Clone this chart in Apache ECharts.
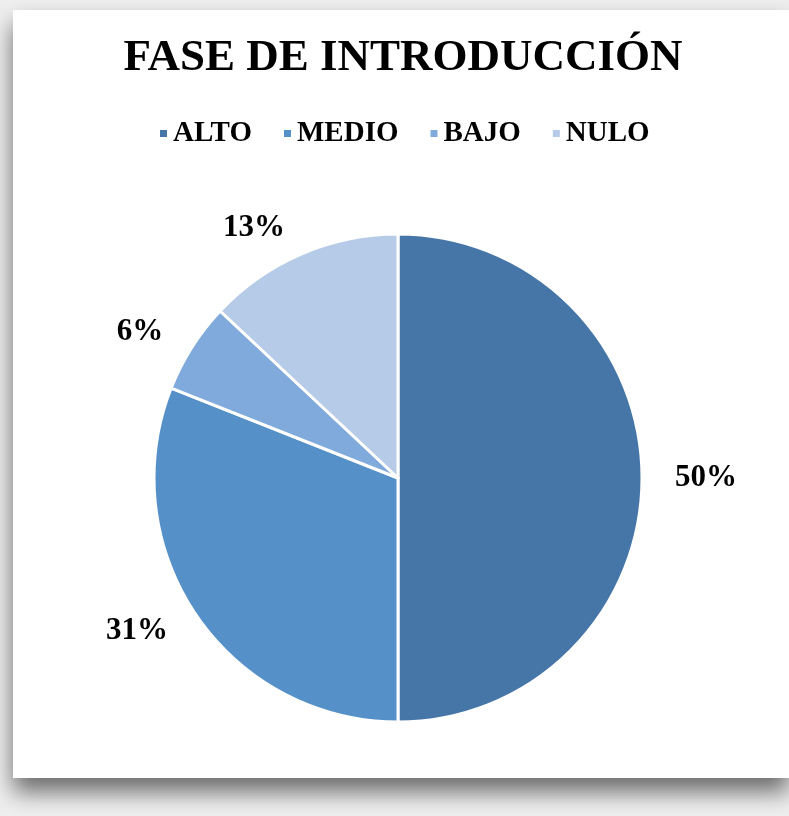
<!DOCTYPE html>
<html>
<head>
<meta charset="utf-8">
<script src="https://cdn.jsdelivr.net/npm/echarts@6/dist/echarts.min.js"></script>
<style>
  html, body { margin: 0; padding: 0; background: #efefef; }
  #chart { width: 789px; height: 816px; }
</style>
</head>
<body>
<div id="chart"></div>
<script>
const categories = ['ALTO', 'MEDIO', 'BAJO', 'NULO'];
const values = [50, 31, 6, 13];
const colors = ['#4676A8', '#5591C8', '#80AADB', '#B6CBE7'];

const serif = '"Liberation Serif", "Times New Roman", serif';

const chart = echarts.init(document.getElementById('chart'), null, { renderer: 'canvas' });

const option = {
  backgroundColor: '#efefef',
  animation: false,
  graphic: [{
    type: 'rect',
    z: -10,
    shape: { x: 13, y: 10, width: 776, height: 768 },
    style: {
      fill: '#ffffff',
      shadowBlur: 22,
      shadowOffsetY: 14,
      shadowColor: 'rgba(0,0,0,0.55)'
    }
  }],
  title: {
    text: 'FASE DE INTRODUCCIÓN',
    left: 398,
    textAlign: 'center',
    top: 31,
    textStyle: { fontFamily: serif, fontWeight: 'bold', fontSize: 45, color: '#000' }
  },
  legend: {
    data: categories,
    left: 153,
    top: 114,
    icon: 'rect',
    itemWidth: 9,
    itemHeight: 9,
    itemGap: 30,
    textStyle: { fontFamily: serif, fontWeight: 'bold', fontSize: 29, color: '#000' }
  },
  series: [{
    type: 'pie',
    center: [398, 478],
    radius: 244,
    startAngle: 90,
    clockwise: true,
    avoidLabelOverlap: false,
    itemStyle: { borderColor: '#ffffff', borderWidth: 3 },
    label: {
      show: true,
      position: 'outside',
      formatter: '{c}%',
      fontFamily: serif,
      fontWeight: 'bold',
      fontSize: 31,
      color: '#000'
    },
    labelLine: { show: false, length: 28, length2: 0 },
    emphasis: { disabled: true },
    data: categories.map((name, i) => ({
      name: name,
      value: values[i],
      itemStyle: { color: colors[i] }
    }))
  }]
};

chart.setOption(option);
</script>
</body>
</html>
